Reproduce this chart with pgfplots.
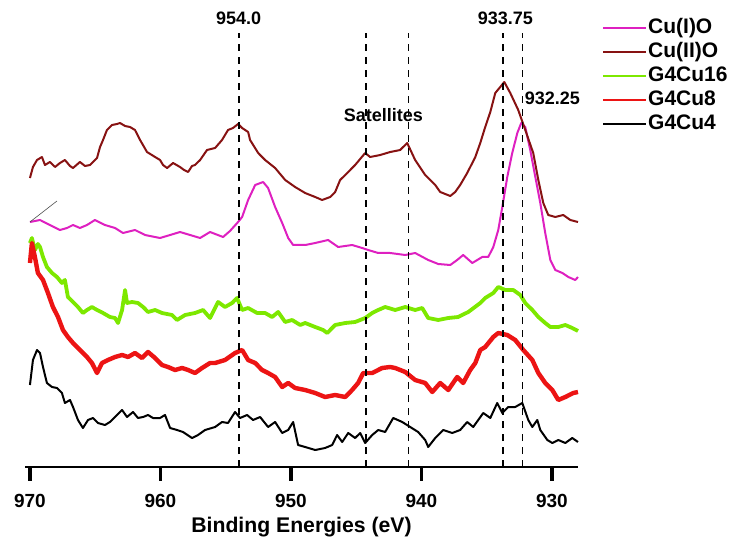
\documentclass[border=0pt]{standalone}
\usepackage{pgfplots}
\pgfplotsset{compat=1.18}
\usepackage{fontspec}
\setmainfont{Liberation Sans}

\definecolor{cuone}{RGB}{222,32,192}
\definecolor{cutwo}{RGB}{135,18,18}
\definecolor{gsixteen}{RGB}{125,232,0}
\definecolor{geight}{RGB}{236,20,20}

% Cu 2p XPS spectra, stacked with vertical offsets (intensity in arbitrary units)
\pgfplotstableread{
x y
970.00 289
969.77 300
969.46 307
969.08 310
968.85 302
968.47 305
968.08 300
967.70 304
967.32 307
966.93 301
966.70 299
966.17 305
965.78 301
965.40 302
964.86 309
964.63 320
964.40 327
964.10 337
963.71 342
963.33 343
963.10 344
962.71 341
962.33 340
961.95 337
961.56 327
961.03 315
960.41 310
960.03 307
959.80 302
959.49 299
959.03 304
958.50 300
958.19 297
957.88 295
957.58 301
957.35 302
956.96 307
956.43 317
955.81 319
955.28 327
954.82 337
954.44 339
954.05 343
953.74 339
953.28 335
953.13 327
952.51 314
951.98 307
951.21 299
950.44 287
949.68 280
948.91 274
948.14 270
947.61 267
946.99 270
946.61 275
946.23 287
945.84 292
945.08 302
944.31 314
943.93 310
943.16 312
942.39 315
941.63 317
941.09 324
940.48 307
939.71 292
938.94 282
938.56 275
937.79 271
937.41 275
937.03 282
936.49 294
935.87 310
935.49 324
935.11 340
934.72 355
934.34 374
933.96 380
933.65 385
933.19 374
932.58 357
932.04 337
931.43 314
931.04 287
930.66 264
930.28 252
929.74 250
929.13 252
928.59 247
928.00 245
}\cuIIo

\pgfplotstableread{
x y
970.00 245
969.23 247
968.47 242
967.70 237
967.16 239
966.70 242
966.17 239
965.63 242
965.02 247
964.25 242
963.48 239
962.87 234
961.95 237
961.18 232
960.03 229
959.26 232
958.50 235
957.73 232
956.96 229
956.20 235
955.20 230
954.67 236
954.05 245
953.74 250
953.28 267
952.74 282
952.13 285
951.75 279
951.21 260
950.67 244
950.21 229
949.83 222
948.91 222
948.14 224
947.15 227
946.38 220
945.31 222
944.54 219
944.08 217
943.31 214
942.39 214
941.24 212
940.48 214
939.48 207
938.71 203
937.79 202
937.26 207
936.80 212
936.10 204
935.34 210
934.88 210
934.49 220
934.11 237
933.80 260
933.42 290
933.04 314
932.65 334
932.35 344
932.04 340
931.66 317
931.27 290
930.89 264
930.51 234
930.12 207
929.74 197
929.20 194
928.74 190
928.21 187
928.00 190
}\cuIo

\pgfplotstableread{
x y
970.00 224
969.85 229
969.62 217
969.39 223
969.23 220
969.00 210
968.70 200
968.31 194
967.93 190
967.55 184
967.32 187
967.09 170
966.70 165
966.32 160
965.94 154
965.63 157
965.25 160
964.86 157
964.40 154
963.87 150
963.48 149
963.25 144
962.94 157
962.71 177
962.56 164
962.18 165
961.72 164
961.33 160
960.95 155
960.41 157
959.88 154
959.11 152
958.73 147
958.11 152
957.35 154
956.73 157
956.20 149
955.58 165
955.05 160
954.51 164
954.13 169
953.74 157
953.28 159
952.59 154
951.98 154
951.44 150
950.98 155
950.44 145
949.91 147
949.29 142
948.91 144
948.14 140
947.53 137
947.22 134
946.61 142
945.84 144
945.08 145
944.31 149
943.77 154
943.31 157
942.78 160
942.01 157
941.24 160
940.48 157
939.94 159
939.48 149
938.71 147
937.94 149
937.18 150
936.41 155
935.49 164
935.11 169
934.49 174
934.11 180
933.57 177
932.96 177
932.42 172
932.04 164
931.50 157
931.04 150
930.51 144
930.12 140
929.51 140
928.97 142
928.44 139
928.00 136
}\gcusixteen

\pgfplotstableread{
x y
970.00 204
969.85 224
969.62 210
969.39 194
969.00 187
968.62 174
968.24 160
967.85 150
967.47 137
967.09 130
966.70 124
966.17 117
965.63 110
965.25 104
964.86 94
964.48 104
964.02 107
963.48 110
962.94 112
962.48 110
961.95 114
961.41 109
960.95 115
960.41 109
959.88 102
959.42 100
958.88 97
958.34 99
957.88 97
957.35 94
956.81 99
956.20 104
955.81 104
955.05 107
954.28 114
953.74 117
953.28 107
952.74 104
952.21 97
951.75 94
951.21 90
950.67 80
950.21 84
949.68 79
948.91 77
948.14 74
947.38 70
946.61 72
945.84 70
945.31 77
944.85 84
944.46 94
943.77 94
943.01 99
942.39 100
942.01 99
941.24 95
940.48 87
939.71 84
939.17 75
938.56 84
937.94 77
937.26 90
936.80 84
936.26 97
935.87 104
935.49 117
935.11 120
934.49 130
934.11 134
933.42 132
932.81 127
932.19 117
931.50 107
931.04 94
930.51 84
929.97 77
929.51 67
928.97 70
928.36 74
928.00 75
}\gcueight

\pgfplotstableread{
x y
970.00 82
969.77 107
969.46 117
969.23 114
969.00 100
968.70 84
968.31 80
967.93 79
967.55 74
967.32 64
966.93 67
966.70 60
966.32 47
965.94 39
965.55 47
965.17 49
964.79 44
964.25 42
963.87 45
963.48 50
962.94 57
962.56 50
962.10 55
961.72 49
961.33 50
960.95 52
960.57 49
960.03 49
959.65 52
959.26 39
958.73 37
958.27 35
957.58 29
957.12 32
956.58 37
955.81 40
955.28 45
954.82 44
954.28 55
953.90 49
953.36 52
952.90 47
952.36 50
951.75 40
951.21 45
950.67 34
950.21 37
949.83 45
949.45 22
948.91 20
948.14 17
947.38 19
946.84 22
946.46 32
946.07 25
945.61 34
945.08 29
944.69 34
944.31 24
943.77 32
943.31 37
942.78 35
942.16 49
941.47 45
940.86 40
940.25 35
939.71 27
939.48 20
938.94 29
938.33 37
937.64 34
937.03 37
936.49 45
936.03 40
935.26 54
934.72 49
934.19 64
933.80 54
933.34 60
932.81 60
932.27 64
931.81 47
931.50 40
931.12 47
930.89 37
930.35 27
929.97 24
929.51 27
928.97 24
928.44 29
928.00 25
}\gcufour

\begin{document}
\begin{tikzpicture}
\useasboundingbox (-12.5pt,-37.5pt) rectangle (355pt,233.5pt);
\begin{axis}[
  at={(0,0)}, anchor=south west,
  scale only axis, width=276.5pt, height=233.5pt,
  x dir=reverse,
  xmin=928, xmax=970.38, ymin=0, ymax=467,
  axis x line*=bottom, hide y axis,
  axis line style={-, line width=1.2pt},
  xtick={930,940,950,960,970},
  xticklabels={930,940,950,960,970},
  major tick length=0pt,
  xticklabel style={font=\fontsize{9.5}{11}\selectfont\bfseries, anchor=center, yshift=-17pt},
  xlabel={Binding Energies (eV)},
  xlabel style={font=\fontsize{10.6}{12}\selectfont\bfseries, at={(axis description cs:0.5,0)}, anchor=center, yshift=-30pt},
  clip=false,
  legend style={draw=none, fill=none, inner sep=0pt, at={(rel axis cs:1.043,0.965)}, anchor=north west,
    font=\fontsize{10.5}{12}\selectfont\bfseries, row sep=1pt,
    nodes={inner sep=0.5pt, text height=8pt, text depth=2pt}},
  legend cell align=left,
  legend image code/.code={\draw[#1, line width=1pt] (0pt,0pt) -- (21.5pt,0pt);},
]
\addplot[cuone, line width=1pt, line join=round] table {\cuIo};
\addlegendentry{Cu(I)O}
\addplot[cutwo, line width=1pt, line join=round] table {\cuIIo};
\addlegendentry{Cu(II)O}
\addplot[gsixteen, line width=1.9pt, line join=round] table {\gcusixteen};
\addlegendentry{G4Cu16}
\addplot[geight, line width=2.2pt, line join=round] table {\gcueight};
\addlegendentry{G4Cu8}
\addplot[black, line width=1pt, line join=round] table {\gcufour};
\addlegendentry{G4Cu4}
% short stray stroke at the start of the Cu(I)O trace
\addplot[black!70, line width=0.3pt, forget plot] coordinates {(970.00,245) (967.93,266)};
% reference energies
\addplot[black, line width=0.85pt, dash pattern=on 3.5pt off 3pt, forget plot] coordinates {(954.0,0) (954.0,434)};
\addplot[black, line width=0.85pt, dash pattern=on 3.5pt off 3pt, forget plot] coordinates {(944.25,0) (944.25,434)};
\addplot[black, line width=0.85pt, dash pattern=on 3.5pt off 3pt, forget plot] coordinates {(941.0,0) (941.0,434)};
\addplot[black, line width=0.85pt, dash pattern=on 3.5pt off 3pt, forget plot] coordinates {(933.75,0) (933.75,434)};
\addplot[black, line width=0.85pt, dash pattern=on 3.5pt off 3pt, forget plot] coordinates {(932.25,0) (932.25,434)};
\node[font=\fontsize{9}{10}\selectfont\bfseries] at (axis cs:954.0,449) {954.0};
\node[font=\fontsize{9}{10}\selectfont\bfseries] at (axis cs:933.57,449) {933.75};
\node[font=\fontsize{9}{10}\selectfont\bfseries] at (axis cs:929.97,369) {932.25};
\node[font=\fontsize{9}{10}\selectfont\bfseries] at (axis cs:942.92,352) {Satellites};
\end{axis}
% outward tick marks at 970, 960, 950, 940, 930 eV
\foreach \tx in {2.48,67.72,132.96,198.20,263.45} {
  \fill[black] (\tx pt-0.8pt,0.5pt) rectangle (\tx pt+0.8pt,-7pt);
}
\end{tikzpicture}
\end{document}
